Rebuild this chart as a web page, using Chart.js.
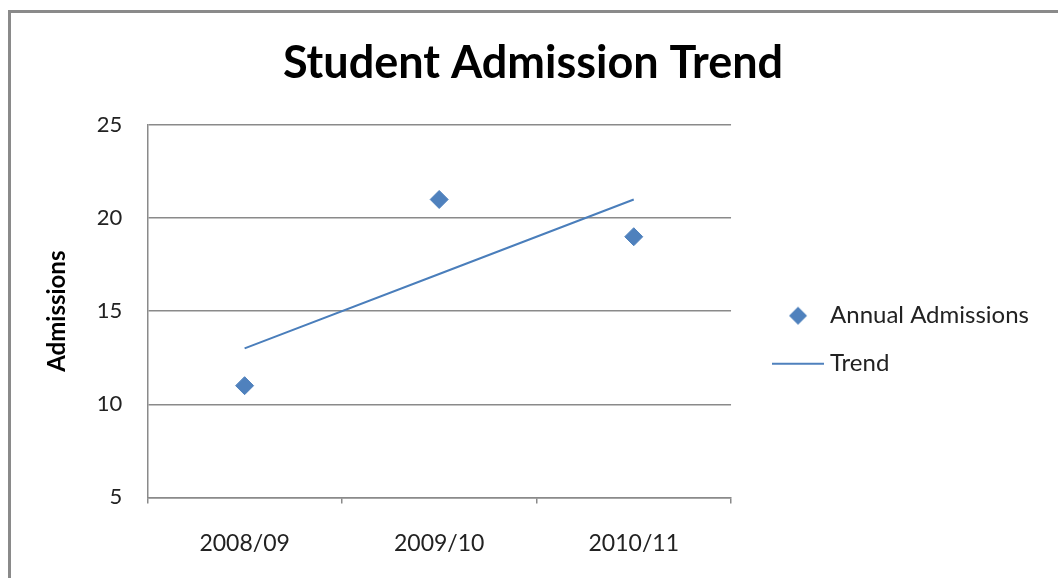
<!DOCTYPE html>
<html>
<head>
<meta charset="utf-8">
<script src="https://cdn.jsdelivr.net/npm/chart.js@4"></script>
<style>
  html, body { margin: 0; padding: 0; background: #fff; overflow: hidden; }
  #frame {
    position: absolute; left: 8px; top: 10px;
    width: 1200px; height: 700px;
    border: 3px solid #8a8a8a;
  }
  #chart { position: absolute; left: 0; top: 0; }
</style>
</head>
<body>
<div id="frame"></div>
<canvas id="chart" width="1058" height="578"></canvas>
<script>
// admissions per academic year
const years = ['2008/09', '2009/10', '2010/11'];
const admissions = [11, 21, 19];
const trend = [13, 17, 21];
const yTicks = [5, 10, 15, 20, 25];

const blue = '#4F81BD';
const gridGrey = '#8a8a8a';
const font = 'Lato, "Open Sans", sans-serif';

// little pictures used as legend symbols
function legendDiamond() {
    const c = document.createElement('canvas');
    c.width = 20; c.height = 20;
    const g = c.getContext('2d');
    g.fillStyle = blue;
    g.beginPath();
    g.moveTo(10, 1); g.lineTo(19, 10); g.lineTo(10, 19); g.lineTo(1, 10);
    g.closePath();
    g.fill();
    return c;
}
function legendLine() {
    const c = document.createElement('canvas');
    c.width = 52; c.height = 4;
    const g = c.getContext('2d');
    g.strokeStyle = blue;
    g.lineWidth = 2;
    g.beginPath();
    g.moveTo(0, 2); g.lineTo(52, 2);
    g.stroke();
    return c;
}
const legendIcons = [legendDiamond(), legendLine()];

const ctx = document.getElementById('chart').getContext('2d');

new Chart(ctx, {
    type: 'line',
    data: {
        labels: years,
        datasets: [{
            label: 'Annual Admissions',
            data: admissions,
            showLine: false,
            pointStyle: 'rectRot',
            pointRadius: 9,
            pointHoverRadius: 9,
            pointBackgroundColor: blue,
            pointBorderColor: blue,
            pointBorderWidth: 1,
            borderColor: blue,
            backgroundColor: blue
        }, {
            label: 'Trend',
            data: trend,
            borderColor: '#4A7EBB',
            borderWidth: 2,
            pointRadius: 0,
            pointHoverRadius: 0,
            tension: 0
        }]
    },
    options: {
        responsive: false,
        animation: false,
        layout: { padding: { left: 27, right: 19, top: 0, bottom: -5 } },
        scales: {
            x: {
                offset: true,
                grid: {
                    offset: true,
                    drawOnChartArea: false,
                    drawTicks: true,
                    tickLength: 6,
                    tickColor: gridGrey,
                    lineWidth: 1.5
                },
                border: { display: true, color: gridGrey, width: 1.5 },
                ticks: { color: '#222', padding: 26, font: { family: font, size: 23 } }
            },
            y: {
                min: 5,
                max: 25,
                afterBuildTicks: function(axis) {
                    axis.ticks = yTicks.map(v => ({ value: v }));
                },
                grid: { color: gridGrey, lineWidth: 1.5, drawTicks: false },
                border: { display: true, color: gridGrey, width: 1.5 },
                ticks: { color: '#222', padding: 25, font: { family: font, size: 22 } },
                title: {
                    display: true,
                    text: 'Admissions',
                    color: '#000',
                    font: { family: font, size: 24, weight: 'bold' },
                    padding: { top: 16, bottom: 0 }
                }
            },
            // empty right-hand axis, only keeps a gap before the legend
            gap: {
                position: 'right',
                grid: { display: false },
                border: { display: false },
                ticks: { display: false },
                afterFit: function(axis) { axis.width = 23; }
            }
        },
        plugins: {
            title: {
                display: true,
                text: 'Student Admission Trend',
                color: '#000',
                font: { family: font, size: 45, weight: 'bold' },
                padding: { top: 36, bottom: 35 }
            },
            legend: {
                position: 'right',
                maxWidth: 340,
                labels: {
                    usePointStyle: true,
                    pointStyleWidth: 40,
                    padding: 24,
                    color: '#222',
                    font: { family: font, size: 24 },
                    generateLabels: function(chart) {
                        const items = Chart.defaults.plugins.legend.labels.generateLabels(chart);
                        items.forEach((it, i) => { it.pointStyle = legendIcons[i]; });
                        return items;
                    }
                },
                title: { display: true, text: ' ', padding: { top: 0, bottom: 82 } }
            },
            tooltip: { enabled: false }
        }
    }
});
</script>
</body>
</html>
